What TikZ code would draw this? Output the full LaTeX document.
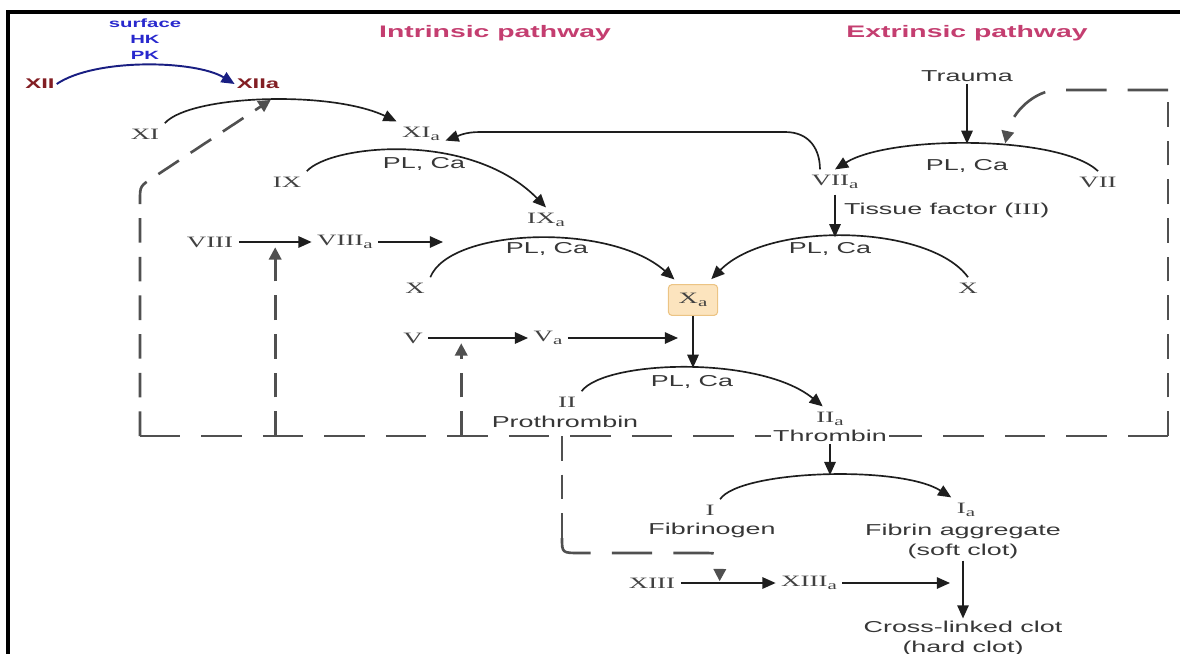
\documentclass[tikz,border=0pt]{standalone}
\usepackage{fontspec}
\setmainfont{Liberation Serif}[FakeStretch=1.7]
\setsansfont{Liberation Sans}[FakeStretch=1.7]
\usetikzlibrary{arrows.meta}
\definecolor{pathpink}{RGB}{196,62,112}
\definecolor{xiired}{RGB}{130,30,35}
\definecolor{surfblue}{RGB}{40,40,205}
\definecolor{surfarc}{RGB}{25,30,130}
\definecolor{numgray}{RGB}{65,65,65}
\definecolor{lblgray}{RGB}{55,55,55}
\definecolor{arrgray}{RGB}{30,30,30}
\definecolor{dashgray}{RGB}{80,80,80}
\definecolor{xafill}{RGB}{252,228,190}
\definecolor{xadraw}{RGB}{236,196,132}
\newcommand{\sba}{\raisebox{-2pt}{\fontsize{7}{7}\selectfont a}}
\tikzset{
  fac/.style={font=\fontsize{9}{10}\selectfont,text=numgray,inner sep=3pt},
  lbl/.style={font=\sffamily\fontsize{9}{11.5}\selectfont,text=lblgray,inner sep=1pt,align=center},
  ttl/.style={font=\sffamily\bfseries\fontsize{9.5}{11}\selectfont,text=pathpink},
  xiilbl/.style={font=\sffamily\bfseries\fontsize{8}{9}\selectfont,text=xiired,inner sep=1pt},
  surflbl/.style={font=\sffamily\bfseries\fontsize{6.8}{9}\selectfont,text=surfblue,align=center},
  xabox/.style={fac,draw=xadraw,fill=xafill,rounded corners=2pt,minimum width=28pt,
    minimum height=17.5pt,line width=0.6pt},
  arr/.style={draw=arrgray,line width=0.95pt,-{Triangle[length=7.5pt,width=6.5pt]}},
  fbh/.style={draw=dashgray,line width=1.5pt,dash pattern=on 23pt off 12pt},
  fbv/.style={draw=dashgray,line width=1.5pt,dash pattern=on 14pt off 8pt},
  fbarr/.style={-{Triangle[length=7pt,width=7pt]}}
}

\begin{document}
\begin{tikzpicture}[x=0.02cm,y=-0.02cm]
  \useasboundingbox (0,0) rectangle (1180,653);
  \clip (0,0) rectangle (1180,653);
  \draw[line width=2pt] (8,660) -- (8,12) -- (1190,12);

  \node[surflbl] (surf) at (145,39) {surface\\HK\\PK};
  \node[xiilbl] (xii) at (40,84) {XII};
  \node[xiilbl] (xiia) at (258,84) {XIIa};
  \node[ttl] (intr) at (495,33) {Intrinsic pathway};
  \node[ttl] (extr) at (967,33) {Extrinsic pathway};
  \node[lbl] (trauma) at (967,76) {Trauma};

  \node[fac] (xi) at (145,134) {XI};
  \node[fac] (xia) at (421,134) {XI\sba};
  \node[lbl] (plxi) at (424,164) {PL, Ca};
  \node[fac] (ix) at (287,182) {IX};
  \node[fac] (ixa) at (546,220) {IX\sba};
  \node[fac] (viia) at (835,182) {VII\sba};
  \node[fac] (vii) at (1098,182) {VII};
  \node[lbl] (plvii) at (967,166) {PL, Ca};
  \node[lbl,anchor=west] (tf) at (842,210) {Tissue factor ({\rmfamily III})};
  \node[fac] (viii) at (210,242) {VIII};
  \node[fac] (viiia) at (345,242) {VIII\sba};
  \node[fac] (x1) at (415,288) {X};
  \node[lbl] (plix) at (547,249) {PL, Ca};
  \node[lbl] (pltf) at (830,249) {PL, Ca};
  \node[fac] (x2) at (968,288) {X};
  \node[xabox] (xa) at (693,300) {X\sba};
  \node[fac] (v) at (413,338) {V};
  \node[fac] (va) at (548,338) {V\sba};
  \node[fac] (ii) at (567,402) {II};
  \node[lbl] (prothr) at (565,422) {Prothrombin};
  \node[lbl] (plx) at (692,382) {PL, Ca};
  \node[fac] (iia) at (830,419) {II\sba};
  \node[lbl] (thromb) at (830,436) {Thrombin};
  \node[fac] (i) at (710,510) {I};
  \node[lbl] (fibgen) at (712,530) {Fibrinogen};
  \node[fac] (ia) at (966,510) {I\sba};
  \node[lbl] (fibrin) at (963,541) {Fibrin aggregate\\(soft clot)};
  \node[fac] (xiii) at (652,583) {XIII};
  \node[fac] (xiiia) at (809,583) {XIII\sba};
  \node[lbl] (clot) at (963,638) {Cross-linked clot\\(hard clot)};

  \coordinate (viiiend) at (443,242);
  \coordinate (vend) at (678,338);
  \coordinate (xiiiend) at (950,583);

  \draw[arr,draw=surfarc,line width=1.1pt] (xii.east) .. controls (95,58) and (195,60) .. (xiia.west);
  \draw[arr] (xi.north east) .. controls (190,95) and (330,90) .. (xia.north west)
    coordinate[pos=.52] (xipk);
  \draw[arr] (ix.north east) .. controls (330,145) and (470,130) .. (ixa.north);
  \draw[arr] (viia.140) .. controls (820,150) and (810,132) .. (785,132) -- (480,132)
    .. controls (465,132) and (458,136) .. (xia.-15);
  \draw[arr] (vii.north) .. controls (1060,135) and (890,135) .. (viia.north)
    coordinate[pos=.52] (viipk) coordinate[pos=.4] (viidash);
  \draw[arr] (trauma.south) -- (trauma.south |- viipk);
  \draw[arr,shorten >=4pt] (x1.north east) .. controls (450,228) and (610,222) .. (xa.130);
  \draw[arr,shorten >=4pt] (x2.north) .. controls (930,225) and (770,220) .. (xa.50)
    coordinate[pos=.53] (x2pk);
  \draw[arr] (viia.south) -- (viia.south |- x2pk);
  \draw[arr] (viii.east) -- (viii.east -| viiia.west) coordinate[pos=.5] (viiimid);
  \draw[arr] (viiia.east |- viii.east) -- (viiiend);
  \draw[arr] (v.east) -- (v.east -| va.west) coordinate[pos=.33] (vmid);
  \draw[arr] (va.east |- v.east) -- (vend);
  \draw[arr] (ii.north east) .. controls (605,360) and (760,355) .. (iia.120)
    coordinate[pos=.5] (iipk);
  \draw[arr] (xa.south) -- (xa.south |- iipk);
  \draw[arr] (i.north east) .. controls (740,470) and (900,465) .. (ia.north west)
    coordinate[pos=.52] (ipk);
  \draw[arr] (thromb.south) -- (thromb.south |- ipk);
  \draw[arr] (fibrin.south) -- (clot.north);
  \draw[arr] (xiii.east) -- (xiii.east -| xiiia.west) coordinate[pos=.41] (xiiimid);
  \draw[arr] (xiiia.east |- xiii.east) -- (xiiiend);

  \coordinate (bl) at (140,436);
  \coordinate (tl) at (140,200);
  \coordinate (br) at (1168,436);
  \coordinate (tr) at (1168,90);
  \coordinate (ptop) at (562,436);
  \coordinate (pbot) at (562,538);
  \draw[fbh] (bl) -- (thromb.west);
  \draw[fbh] (br) -- (thromb.east);
  \draw[fbv] (br) -- (tr);
  \draw[fbh,fbarr,shorten >=1pt] (tr) -- (1058,90) .. controls (1035,90) and (1012,112) .. (viidash);
  \draw[fbv,fbarr] (bl) -- (tl) .. controls (140,186) .. (154,177) -- (xipk);
  \draw[fbv,fbarr,shorten >=3pt] (viiimid |- bl) -- (viiimid);
  \draw[fbv,fbarr,shorten >=3pt] (vmid |- bl) -- (vmid);
  \draw[fbv] (ptop) -- (pbot);
  \draw[fbh,fbarr,shorten >=1pt] (pbot) .. controls (562,553) .. (580,553) -- (703,553)
    .. controls (720,553) .. (xiiimid);
\end{tikzpicture}
\end{document}
